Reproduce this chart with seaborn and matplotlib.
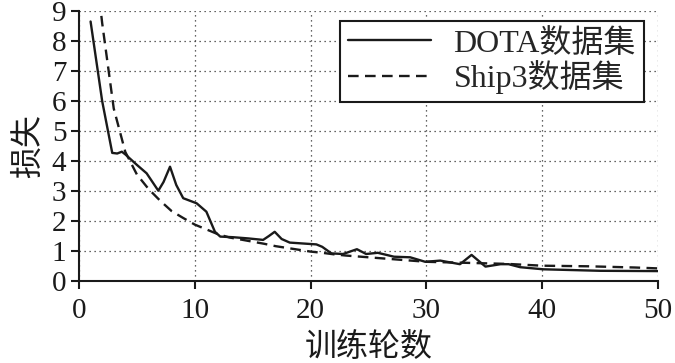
import matplotlib
matplotlib.use("Agg")
import matplotlib.pyplot as plt
import seaborn as sns
import pandas as pd

# DOTA dataset loss (solid line)
dota_epoch = [1, 2, 2.87, 3.3, 3.7, 4, 5, 5.84, 6.85, 7.3, 7.86, 8.4, 9.0, 10.16,
              11.0, 11.74, 12.2, 13.3, 14.6, 15.9, 16.4, 16.9, 17.5, 18.2, 20.5,
              21, 21.8, 22.8, 24, 24.8, 25.8, 27.2, 28.6, 29.9, 31.2, 32.9, 33.9,
              35.1, 36.4, 37.1, 38.1, 40.1, 45, 50]
dota_loss = [8.65, 6.0, 4.27, 4.25, 4.31, 4.22, 3.87, 3.59, 3.01, 3.3, 3.81, 3.2,
             2.76, 2.59, 2.31, 1.64, 1.48, 1.46, 1.42, 1.37, 1.5, 1.64, 1.4, 1.28,
             1.22, 1.14, 0.92, 0.9, 1.06, 0.9, 0.94, 0.81, 0.79, 0.64, 0.68, 0.56,
             0.87, 0.48, 0.56, 0.56, 0.46, 0.39, 0.34, 0.33]

# Ship3 dataset loss (dashed line)
ship_epoch = list(range(1, 51))
ship_loss = [12.0, 8.6, 5.75, 4.3, 3.55, 3.07, 2.68, 2.33, 2.1, 1.88,
             1.72, 1.56, 1.45, 1.38, 1.31, 1.24, 1.16, 1.1, 1.04, 0.98,
             0.94, 0.89, 0.85, 0.82, 0.79, 0.76, 0.73, 0.70, 0.67, 0.64,
             0.63, 0.62, 0.61, 0.60, 0.59, 0.58, 0.57, 0.55, 0.53, 0.51,
             0.505, 0.50, 0.495, 0.49, 0.48, 0.47, 0.46, 0.45, 0.435, 0.42]

labels = ["DOTA数据集", "Ship3数据集"]
x_ticks = [0, 10, 20, 30, 40, 50]
y_ticks = list(range(0, 10))

sns.set_style("ticks")
plt.rcParams["font.family"] = ["Liberation Serif", "Noto Sans CJK SC"]
plt.rcParams["axes.unicode_minus"] = False

fig = plt.figure(figsize=(6.75, 3.63), dpi=100)
ax = fig.add_axes([79 / 675, 1 - 281 / 363, (658 - 79) / 675, (281 - 11) / 363])

df1 = pd.DataFrame({"epoch": dota_epoch, "loss": dota_loss})
df2 = pd.DataFrame({"epoch": ship_epoch, "loss": ship_loss})
sns.lineplot(data=df1, x="epoch", y="loss", ax=ax, color="#1a1a1a", lw=1.7,
             label=labels[0], sort=True)
sns.lineplot(data=df2, x="epoch", y="loss", ax=ax, color="#1a1a1a", lw=1.7,
             linestyle=(0, (4.5, 2.7)), label=labels[1])

ax.set_xlim(0, 50)
ax.set_ylim(0, 9)
ax.set_xticks(x_ticks)
ax.set_yticks(y_ticks)
ax.grid(True, linestyle=(0, (1, 3)), color="#333333", lw=0.9)
ax.set_axisbelow(True)
for s in ["top", "right"]:
    ax.spines[s].set_visible(False)
for s in ["left", "bottom"]:
    ax.spines[s].set_linewidth(1.5)
    ax.spines[s].set_color("#1a1a1a")
ax.tick_params(axis="both", direction="out", length=6, width=1.5,
               labelsize=21, colors="#1a1a1a", pad=3)
ax.tick_params(axis="x", pad=6)

ax.set_xlabel("训练轮数", fontsize=23, labelpad=7, color="#1a1a1a")
ax.set_ylabel("损失", fontsize=23, labelpad=6, color="#1a1a1a")

leg = ax.legend(loc="upper right", fontsize=23, frameon=True, fancybox=False,
                handlelength=2.6, borderaxespad=0.3, labelspacing=0.05,
                handletextpad=0.7, borderpad=0.25, bbox_to_anchor=(0.992, 1.0))
leg.get_frame().set_edgecolor("#1a1a1a")
leg.get_frame().set_linewidth(1.5)
leg.get_frame().set_alpha(1)

fig.savefig("out.png", dpi=100)
